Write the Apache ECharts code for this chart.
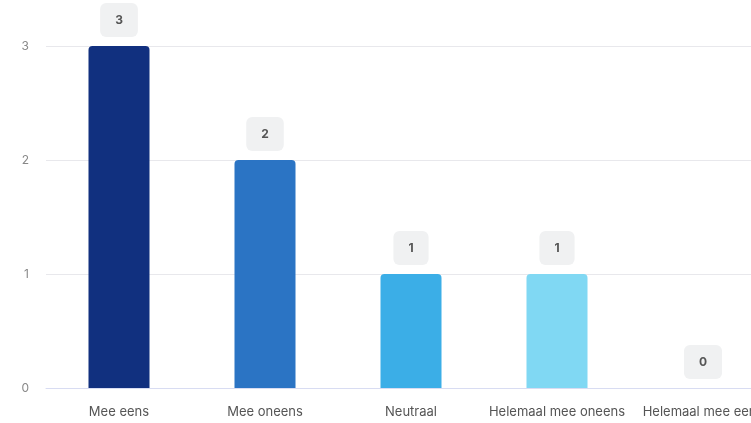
<!DOCTYPE html>
<html><head><meta charset="utf-8">
<script src="https://cdn.jsdelivr.net/npm/echarts@6/dist/echarts.min.js"></script>
<style>html,body{margin:0;padding:0;background:#fff;overflow:hidden;width:751px;height:423px}#c{width:776px;height:423px}</style>
</head><body><div id="c"></div>
<script>
const categories = ['Mee eens', 'Mee oneens', 'Neutraal', 'Helemaal mee oneens', 'Helemaal mee eens'];
const values = [3, 2, 1, 1, 0];
const barColors = ['#11307f', '#2b74c4', '#3baee7', '#80d8f3', '#c9ecf8'];
const yTicks = [0, 1, 2, 3];

const chart = echarts.init(document.getElementById('c'));
chart.setOption({
  animation: false,
  textStyle: { fontFamily: 'Inter, Roboto, sans-serif' },
  grid: { left: 46, right: 0, top: 46, bottom: 35, containLabel: false },
  xAxis: {
    type: 'category', data: categories,
    axisLine: { lineStyle: { color: '#d8dcf2' } },
    axisTick: { show: false },
    axisLabel: { color: '#555', fontSize: 13, margin: 18, interval: 0 }
  },
  yAxis: {
    type: 'value', min: yTicks[0], max: yTicks[yTicks.length - 1], interval: 1,
    axisLabel: { color: '#888', fontSize: 12, margin: 17 },
    splitLine: { lineStyle: { color: '#e8e8ec' } },
    axisLine: { show: false }, axisTick: { show: false }
  },
  series: [{
    type: 'bar', barWidth: 61,
    data: values.map((v, i) => ({ value: v, itemStyle: { color: barColors[i] } })),
    itemStyle: { borderRadius: [4, 4, 0, 0] },
    label: {
      show: true, position: 'top', distance: 9,
      color: '#555', fontSize: 12, fontWeight: 'bold',
      backgroundColor: '#f0f1f2', borderRadius: 6, padding: [10, 15], lineHeight: 14
    }
  }]
});
</script></body></html>
